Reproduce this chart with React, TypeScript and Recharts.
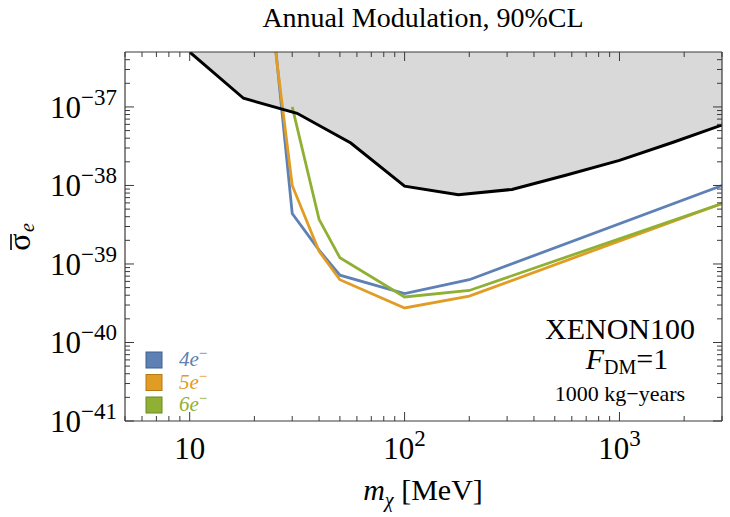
import { ComposedChart, Area, Line, XAxis, YAxis } from "recharts";

const FONT = "'Liberation Serif', 'Times New Roman', Times, serif";
const FRAME = "#3a3a3a";

// axis ticks
const xMajorTicks = [10, 100, 1000];
const xMinorTicks = [5, 6, 7, 8, 9, 20, 30, 40, 50, 60, 70, 80, 90, 200, 300, 400, 500, 600, 700, 800, 900, 2000, 3000];
const yMajorTicks = [1e-41, 1e-40, 1e-39, 1e-38, 1e-37];
const yMinorSteps = [2, 3, 4, 5, 6, 7, 8, 9];
const yMinorTicks = [
  ...yMajorTicks.slice(0, 4).flatMap((d) => yMinorSteps.map((k) => k * d)),
  2e-37, 3e-37, 4e-37,
];

// existing XENON100 limit (shaded region above)
const xenonMass = [10, 17.8, 31.6, 56.2, 100, 178, 316, 562, 1000, 1778, 3162];
const xenonSigma = [5.0e-37, 1.29e-37, 8.3e-38, 3.47e-38, 9.8e-39, 7.6e-39, 8.9e-39, 1.35e-38, 2.09e-38, 3.55e-38, 6.2e-38];

// annual modulation reach, 4/5/6 electron thresholds
const mass4e = [25, 30, 40, 50, 100, 200, 3000];
const sigma4e = [6.3e-37, 4.4e-39, 1.5e-39, 7.2e-40, 4.2e-40, 6.3e-40, 1.0e-38];
const mass5e = [25, 30, 40, 50, 100, 200, 3000];
const sigma5e = [5.6e-37, 1.0e-38, 1.45e-39, 6.3e-40, 2.75e-40, 3.9e-40, 5.9e-39];
const mass6e = [30, 40, 50, 100, 200, 3000];
const sigma6e = [1.0e-37, 3.7e-39, 1.2e-39, 3.8e-40, 4.6e-40, 5.9e-39];

const legendItems = [
  { n: "4", color: "#5e81b5", edge: "#40618f" },
  { n: "5", color: "#e19c24", edge: "#b57a12" },
  { n: "6", color: "#8fb032", edge: "#6b8a1e" },
];

const zip = (ms: number[], ss: number[]) => ms.map((m, i) => ({ m, s: ss[i] }));
const xenonData = zip(xenonMass, xenonSigma);
const data4e = zip(mass4e, sigma4e);
const data5e = zip(mass5e, sigma5e);
const data6e = zip(mass6e, sigma6e);

const isMajor = (v: number, majors: number[]) => majors.some((m) => Math.abs(v / m - 1) < 1e-6);
const expOf = (v: number) => Math.round(Math.log10(v));

const BottomTick = (props: any) => {
  const { x, y, payload } = props;
  const major = isMajor(payload.value, xMajorTicks);
  const e = expOf(payload.value);
  return (
    <g>
      <line x1={x} x2={x} y1={y} y2={y - (major ? 9 : 5)} stroke={FRAME} />
      {major && (
        <text x={x} y={y + 38} textAnchor="middle" fontFamily={FONT} fontSize={31} fill="#000">
          <tspan>10</tspan>
          {e !== 1 && <tspan dy={-13} fontSize={23}>{e}</tspan>}
        </text>
      )}
    </g>
  );
};

const TopTick = (props: any) => {
  const { x, y, payload } = props;
  const major = isMajor(payload.value, xMajorTicks);
  return <line x1={x} x2={x} y1={y} y2={y + (major ? 9 : 5)} stroke={FRAME} />;
};

const LeftTick = (props: any) => {
  const { x, y, payload } = props;
  const major = isMajor(payload.value, yMajorTicks);
  const e = expOf(payload.value);
  return (
    <g>
      <line x1={x} x2={x + (major ? 9 : 5)} y1={y} y2={y} stroke={FRAME} />
      {major && (
        <text x={x - 8} y={y + 11} textAnchor="end" fontFamily={FONT} fontSize={31} fill="#000">
          <tspan>10</tspan>
          <tspan dy={-13} fontSize={23}>{"\u2212" + Math.abs(e)}</tspan>
        </text>
      )}
    </g>
  );
};

const RightTick = (props: any) => {
  const { x, y, payload } = props;
  const major = isMajor(payload.value, yMajorTicks);
  return <line x1={x} x2={x - (major ? 9 : 5)} y1={y} y2={y} stroke={FRAME} />;
};

const xAxisCommon = {
  type: "number" as const,
  scale: "log" as const,
  domain: [5, 3000],
  allowDataOverflow: true,
  dataKey: "m",
  ticks: [...xMajorTicks, ...xMinorTicks],
  interval: 0 as const,
  tickLine: false,
  tickSize: 0,
  tickMargin: 0,
  axisLine: { stroke: FRAME, strokeWidth: 1.2 },
};

const yAxisCommon = {
  type: "number" as const,
  scale: "log" as const,
  domain: [1e-41, 5.01e-37],
  allowDataOverflow: true,
  ticks: [...yMajorTicks, ...yMinorTicks],
  interval: 0 as const,
  tickLine: false,
  tickSize: 0,
  tickMargin: 0,
  axisLine: { stroke: FRAME, strokeWidth: 1.2 },
};

export default function App() {
  return (
    <div style={{ position: "absolute", left: 0, top: 0, width: 730, height: 517, background: "#fff" }}>
      <ComposedChart width={730} height={517} margin={{ top: 42, right: 0, bottom: 56, left: 85 }}>
        <XAxis xAxisId="main" orientation="bottom" height={40} {...xAxisCommon} tick={<BottomTick />} />
        <XAxis xAxisId="top" orientation="top" height={10} {...xAxisCommon} tick={<TopTick />} />
        <YAxis yAxisId="main" orientation="left" width={40} {...yAxisCommon} tick={<LeftTick />} />
        <YAxis yAxisId="right" orientation="right" width={8} {...yAxisCommon} tick={<RightTick />} />
        <Area
          xAxisId="main"
          yAxisId="main"
          data={xenonData}
          dataKey="s"
          type="linear"
          baseValue="dataMax"
          fill="#d9d9d9"
          fillOpacity={1}
          stroke="none"
          isAnimationActive={false}
        />
        <Line xAxisId="main" yAxisId="main" data={data4e} dataKey="s" type="linear" stroke="#5e81b5" strokeWidth={2.8} dot={false} isAnimationActive={false} />
        <Line xAxisId="main" yAxisId="main" data={data5e} dataKey="s" type="linear" stroke="#e19c24" strokeWidth={2.8} dot={false} isAnimationActive={false} />
        <Line xAxisId="main" yAxisId="main" data={data6e} dataKey="s" type="linear" stroke="#8fb032" strokeWidth={2.8} dot={false} isAnimationActive={false} />
        <Line xAxisId="main" yAxisId="main" data={xenonData} dataKey="s" type="linear" stroke="#000" strokeWidth={3} dot={false} isAnimationActive={false} />
      </ComposedChart>

      <svg width={730} height={517} style={{ position: "absolute", left: 0, top: 0, pointerEvents: "none" }} fontFamily={FONT}>
        <text x={423} y={27} textAnchor="middle" fontSize={28} fill="#000">
          Annual Modulation, 90%CL
        </text>
        <text x={423} y={500} textAnchor="middle" fontSize={30} fill="#000">
          <tspan fontStyle="italic">m</tspan>
          <tspan fontSize={20} fontStyle="italic" dy={7}>χ</tspan>
          <tspan dy={-7}> [MeV]</tspan>
        </text>
        <g transform="translate(30,242) rotate(-90)">
          <line x1={-8} x2={8} y1={-19} y2={-19} stroke="#000" strokeWidth={1.6} />
          <text x={0} y={0} textAnchor="middle" fontSize={32} fill="#000">σ</text>
          <text x={10} y={4} fontSize={20} fontStyle="italic" fill="#000">e</text>
        </g>

        {legendItems.map((it, i) => (
          <g key={it.n}>
            <rect x={146} y={352 + i * 22.5} width={16} height={16} fill={it.color} stroke={it.edge} strokeWidth={1} />
            <text x={179} y={366 + i * 22.5} fontSize={21} fill={it.color} fontStyle="italic">
              {it.n}e
              <tspan dy={-8} fontSize={15} fontStyle="normal">−</tspan>
            </text>
          </g>
        ))}

        <text x={620} y={339} textAnchor="middle" fontSize={30} fill="#000">XENON100</text>
        <text x={627} y={369} textAnchor="middle" fontSize={30} fill="#000">
          <tspan fontStyle="italic">F</tspan>
          <tspan fontSize={20} dy={5}>DM</tspan>
          <tspan dy={-5}>=1</tspan>
        </text>
        <text x={620} y={401} textAnchor="middle" fontSize={22} fill="#000">1000 kg−years</text>
      </svg>
    </div>
  );
}
